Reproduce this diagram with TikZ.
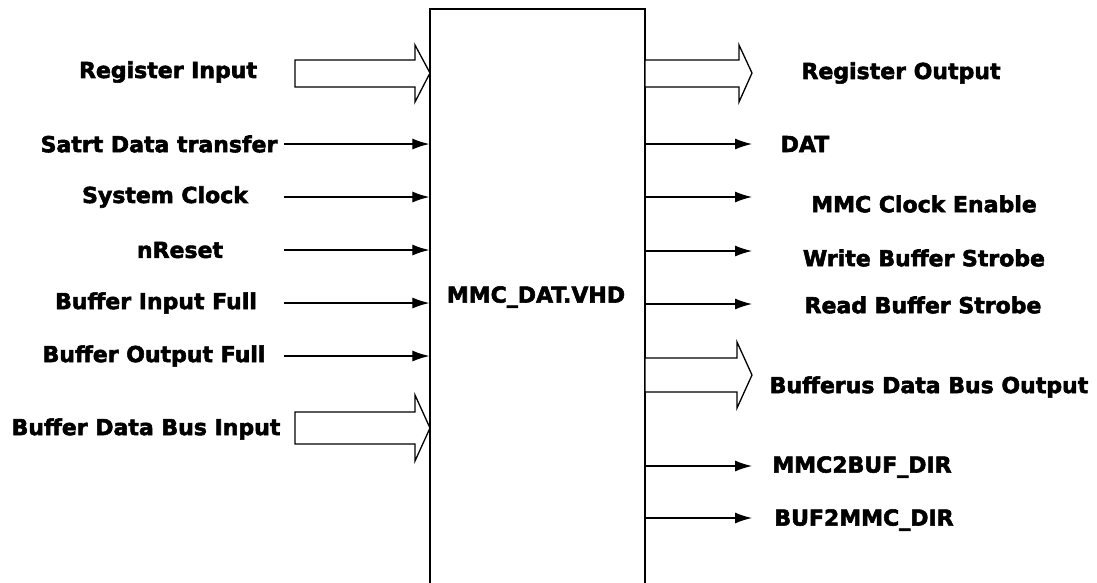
\documentclass[tikz,border=0pt]{standalone}
\usepackage{fontspec}
\setmainfont{DejaVu Sans}[BoldFont=DejaVu Sans Bold, BoldFeatures={FakeBold=2.5}]
\usetikzlibrary{arrows.meta}

\begin{document}
\begin{tikzpicture}[x=1pt, y=-1pt, >={Latex[length=17pt,width=11pt]}]

	% Styles
	\tikzset{
		sigLabel/.style={font=\fontsize{22}{26}\selectfont\bfseries, inner sep=0pt},
		sigLine/.style={->, line width=1.2pt},
		busArrow/.style={draw, line width=1.3pt, fill=white, line join=miter}
	}

	% Page size
	\useasboundingbox (0,0) rectangle (1097,582);
	\clip (0,0) rectangle (1097,582);

	% Block (runs past the bottom edge)
	\node[draw, line width=1.3pt, minimum width=215pt, minimum height=600pt, inner sep=0pt] (dat) at (537.5,309) {};
	\node[sigLabel] (datName) at (536,297) {MMC\_DAT.VHD};

	% ----- Inputs -----
	\node[sigLabel] (regIn)   at (168,72)  {Register Input};
	\node[sigLabel] (startIn) at (159,144) {Satrt Data transfer};
	\node[sigLabel] (clkIn)   at (165,197) {System Clock};
	\node[sigLabel] (rstIn)   at (180,250) {nReset};
	\node[sigLabel] (bifIn)   at (156,303) {Buffer Input Full};
	\node[sigLabel] (bofIn)   at (154,356) {Buffer Output Full};
	\node[sigLabel] (busIn)   at (146,429) {Buffer Data Bus Input};

	% Bus inputs (hollow arrows)
	\draw[busArrow] (295,60) -- (415,60) -- (415,45) -- (430,73) -- (415,102) -- (415,87) -- (295,87) -- cycle;
	\draw[busArrow] (295,412) -- (415,412) -- (415,395) -- (430,428) -- (415,461) -- (415,444) -- (295,444) -- cycle;

	% Single-bit inputs
	\foreach \n/\y in {startIn/144, clkIn/197, rstIn/250, bifIn/303, bofIn/356} {
		\coordinate (\n S) at (284,\y);
		\coordinate (\n E) at (dat.west |- 0,\y);
		\draw[sigLine] (\n S) -- (\n E);
	}

	% ----- Outputs -----
	\node[sigLabel] (regOut)  at (901,73)  {Register Output};
	\node[sigLabel] (datOut)  at (805,144) {DAT};
	\node[sigLabel] (clkEn)   at (924,204) {MMC Clock Enable};
	\node[sigLabel] (wrStb)   at (924,258) {Write Buffer Strobe};
	\node[sigLabel] (rdStb)   at (923,305) {Read Buffer Strobe};
	\node[sigLabel] (busOut)  at (929,387) {Bufferus Data Bus Output};
	\node[sigLabel] (m2bDir)  at (862,467) {MMC2BUF\_DIR};
	\node[sigLabel] (b2mDir)  at (864,520) {BUF2MMC\_DIR};

	% Bus outputs (hollow arrows)
	\draw[busArrow] (645,60) -- (739,60) -- (739,45) -- (752,73) -- (739,102) -- (739,87) -- (645,87) -- cycle;
	\draw[busArrow] (645,358) -- (737,358) -- (737,342) -- (752,375) -- (737,408) -- (737,392) -- (645,392) -- cycle;

	% Single-bit outputs
	\foreach \n/\y in {datOut/144, clkEn/197, wrStb/251, rdStb/304, m2bDir/466, b2mDir/518} {
		\coordinate (\n S) at (dat.east |- 0,\y);
		\coordinate (\n E) at (752,\y);
		\draw[sigLine] (\n S) -- (\n E);
	}

\end{tikzpicture}
\end{document}
